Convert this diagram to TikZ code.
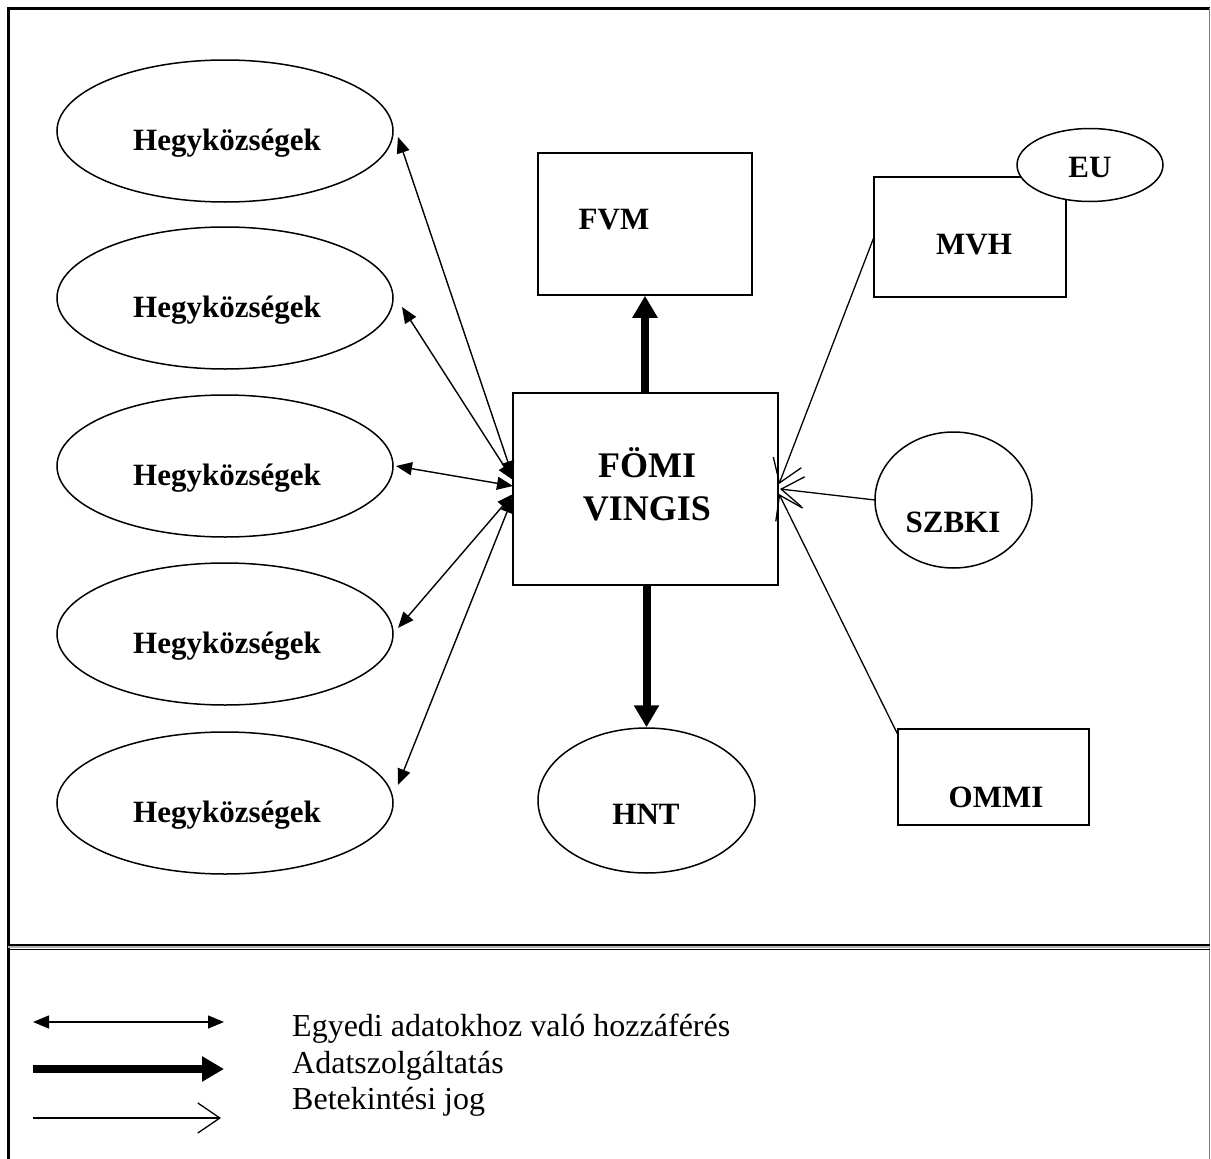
\documentclass[tikz,border=0pt]{standalone}
\usepackage{fontspec}
\setmainfont{Liberation Serif}
\usetikzlibrary{arrows.meta,shapes.geometric,calc}
\begin{document}
\begin{tikzpicture}[x=1pt,y=-1pt,
  shapeline/.style={draw, line width=1.5pt, fill=white, inner sep=0pt},
  ell/.style={shapeline, ellipse},
  box/.style={shapeline, rectangle},
  lbl/.style={font=\fontsize{31}{37}\selectfont\bfseries, inner sep=0pt, anchor=center},
  biglbl/.style={font=\fontsize{36}{43}\selectfont\bfseries, inner sep=0pt, align=center},
  legtext/.style={font=\fontsize{32}{38}\selectfont, inner sep=0pt, anchor=base west},
  access/.style={line width=1.4pt, {Triangle[length=16pt,width=13pt]}-{Triangle[length=16pt,width=13pt]}},
  supply/.style={line width=8pt, -{Triangle[length=22pt,width=24pt]}},
  view/.style={line width=1.3pt, -{Straight Barb[length=22pt,width=30pt,line width=1.3pt]}},
]
\useasboundingbox (0,0) rectangle (1211,1159);
% frame
\draw[line width=3pt] (8,1170) -- (8,8) -- (1210,8);
\draw[line width=1.5pt, gray] (1209.5,8) -- (1209.5,1170);
\draw[line width=1.3pt] (8,945) -- (1210,945);
\draw[line width=1.3pt] (8,949.5) -- (1210,949.5);
\draw[line width=1.5pt, gray!60] (8,947.2) -- (1210,947.2);

% left ellipses
\foreach \i/\y in {1/131,2/298,3/466,4/634,5/803}{
  \node[ell, minimum width=336pt, minimum height=142pt] (h\i) at (225,\y) {};
  \node[lbl] (ht\i) at (227,\y+12) {Hegyközségek};
}

% central
\node[box, minimum width=265pt, minimum height=192pt] (fomi) at (645.5,489) {};
\node[biglbl] (fomit) at (647,484) {FÖMI\\VINGIS};

\node[box, minimum width=214pt, minimum height=142pt] (fvm) at (645,224) {};
\node[lbl] (fvmt) at (614,220) {FVM};

\node[box, minimum width=192pt, minimum height=120pt] (mvh) at (970,237) {};
\node[lbl] (mvht) at (974,245) {MVH};
\node[ell, minimum width=146pt, minimum height=73pt] (eu) at (1090,165) {};
\node[lbl] (eut) at (1090,167) {EU};

\node[ell, minimum width=157pt, minimum height=136pt] (szbki) at (953.5,500) {};
\node[lbl] (szbkit) at (953,522) {SZBKI};

\node[box, minimum width=191pt, minimum height=96pt] (ommi) at (993.5,777) {};
\node[lbl] (ommit) at (996,797) {OMMI};

\node[ell, minimum width=217pt, minimum height=145pt] (hnt) at (646.5,800.5) {};
\node[lbl] (hntt) at (646,814) {HNT};

% access arrows (left)
\coordinate (t1) at (398,137);
\coordinate (t2) at (402,307);
\coordinate (t3) at (396,466);
\coordinate (t4) at (398,628);
\coordinate (t5) at (398,785);
\coordinate (f1) at (513,477);
\coordinate (f2) at (513,480);
\coordinate (f3) at (513,486);
\coordinate (f4) at (513,494);
\coordinate (f5) at (513,497);
\foreach \i in {1,...,5}{\draw[access] (f\i) -- (t\i);}

% supply arrows
\draw[supply] (fomi.north -| fvm.south) -- (fvm.south);
\draw[supply] (fomi.south -| hnt.north) -- (hnt.north);

% view arrows (right)
\coordinate (mvhs) at (874,237);
\coordinate (szs) at (875,500);
\coordinate (oms) at (898,735);
\coordinate (m1) at (779,484);
\coordinate (m2) at (780,489);
\coordinate (m3) at (779,494);
\draw[view] (mvhs) -- (m1);
\draw[view] (szs) -- (m2);
\draw[view] (oms) -- (m3);

% legend
\coordinate (la1) at (33,1022); \coordinate (lb1) at (224,1022);
\coordinate (la2) at (33,1069); \coordinate (lb2) at (224,1069);
\coordinate (la3) at (33,1118); \coordinate (lb3) at (221,1118);
\draw[access] (la1) -- (lb1);
\draw[supply] (la2) -- (lb2);
\draw[view] (la3) -- (lb3);
\node[legtext] (lt1) at (292,1036) {Egyedi adatokhoz való hozzáférés};
\node[legtext] (lt2) at (292,1073) {Adatszolgáltatás};
\node[legtext] (lt3) at (292,1109) {Betekintési jog};
\end{tikzpicture}
\end{document}
